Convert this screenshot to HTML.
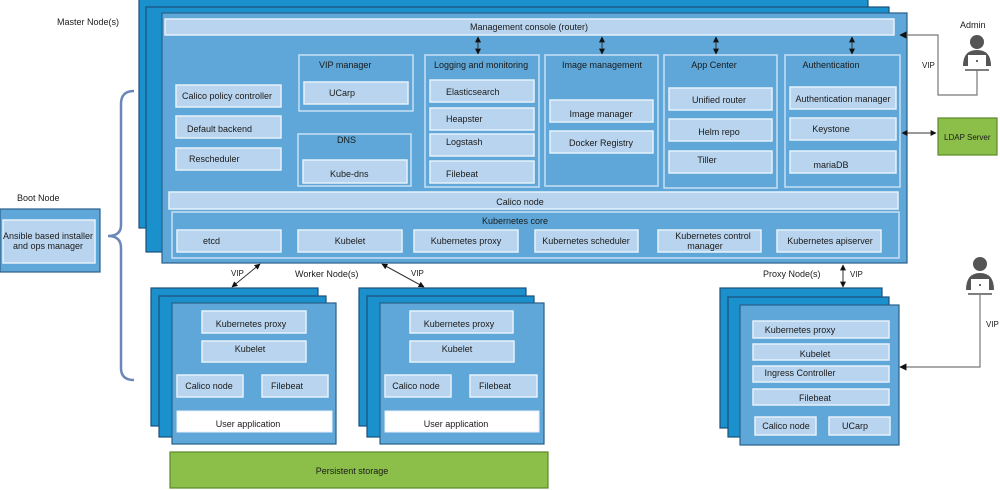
<!DOCTYPE html>
<html><head><meta charset="utf-8"><style>
body{margin:0;background:#fff;}
svg{display:block;font-family:"Liberation Sans",sans-serif;}
.bk{fill:#1a90cc;stroke:#1d4f7a;stroke-width:1.2}
.fr{fill:#5ea7d8;stroke:#2a5f8a;stroke-width:1.2}
.gp{fill:#5ea7d8;stroke:#c9e1f5;stroke-width:1.5}
.lb{fill:#b9d4ee;stroke:#e6f1fb;stroke-width:1.5}
.wh{fill:#fff;stroke:#e6f1fb;stroke-width:1}
.gr{fill:#8bbf4a;stroke:#5c8a2a;stroke-width:1.2}
text{font-size:9px;fill:#1a1a1a;}
.c{text-anchor:middle}
.ln{stroke:#333;stroke-width:1;fill:none}
.gl{stroke:#777;stroke-width:1.2;fill:none}
</style></head><body>
<svg width="1000" height="490" viewBox="0 0 1000 490">
<defs>
<marker id="a" viewBox="0 0 10 10" refX="9" refY="5" markerWidth="6" markerHeight="6" orient="auto-start-reverse"><path d="M0,0L10,5L0,10z" fill="#111"/></marker>
</defs>
<!-- Master -->
<rect class="bk" x="139" y="-2" width="729" height="230"/>
<rect class="bk" x="146" y="7" width="743" height="245"/>
<rect class="fr" x="162" y="13" width="745" height="250"/>
<rect class="lb" x="165" y="19" width="729" height="16"/>
<text class="c" x="529" y="30">Management console (router)</text>
<g class="ln" marker-start="url(#a)" marker-end="url(#a)">
<line x1="478" y1="37" x2="478" y2="54"/><line x1="602" y1="37" x2="602" y2="54"/><line x1="716" y1="37" x2="716" y2="54"/><line x1="852" y1="37" x2="852" y2="54"/>
</g>
<rect class="lb" x="176" y="85" width="105" height="22"/><text x="182" y="99">Calico policy controller</text>
<rect class="lb" x="176" y="116" width="105" height="22"/><text x="187" y="132">Default backend</text>
<rect class="lb" x="176" y="148" width="105" height="22"/><text x="189" y="162">Rescheduler</text>
<rect class="gp" x="299" y="55" width="114" height="56"/><text x="319" y="68">VIP manager</text>
<rect class="lb" x="304" y="82" width="104" height="22"/><text x="329" y="96">UCarp</text>
<rect class="gp" x="298" y="134" width="113" height="52"/><text x="337" y="143">DNS</text>
<rect class="lb" x="303" y="160" width="104" height="23"/><text x="330" y="177">Kube-dns</text>
<rect class="gp" x="425" y="55" width="114" height="132"/><text x="434" y="68">Logging and monitoring</text>
<rect class="lb" x="430" y="80" width="104" height="22"/><text x="446" y="95">Elasticsearch</text>
<rect class="lb" x="430" y="108" width="104" height="22"/><text x="446" y="122">Heapster</text>
<rect class="lb" x="430" y="134" width="104" height="22"/><text x="446" y="145">Logstash</text>
<rect class="lb" x="430" y="161" width="104" height="22"/><text x="446" y="177">Filebeat</text>
<rect class="gp" x="545" y="55" width="113" height="131"/><text class="c" x="602" y="68">Image management</text>
<rect class="lb" x="550" y="100" width="103" height="22"/><text class="c" x="601" y="117">Image manager</text>
<rect class="lb" x="550" y="131" width="103" height="22"/><text class="c" x="601" y="146">Docker Registry</text>
<rect class="gp" x="664" y="55" width="113" height="133"/><text class="c" x="714" y="68">App Center</text>
<rect class="lb" x="669" y="88" width="103" height="22"/><text class="c" x="719" y="103">Unified router</text>
<rect class="lb" x="669" y="119" width="103" height="22"/><text class="c" x="719" y="135">Helm repo</text>
<rect class="lb" x="669" y="151" width="103" height="22"/><text class="c" x="707" y="163">Tiller</text>
<rect class="gp" x="785" y="55" width="115" height="132"/><text class="c" x="831" y="68">Authentication</text>
<rect class="lb" x="790" y="87" width="106" height="22"/><text class="c" x="843" y="102">Authentication manager</text>
<rect class="lb" x="790" y="118" width="106" height="22"/><text class="c" x="831" y="132">Keystone</text>
<rect class="lb" x="790" y="151" width="106" height="22"/><text class="c" x="831" y="168">mariaDB</text>
<rect class="lb" x="169" y="192" width="729" height="17"/><text class="c" x="520" y="205">Calico node</text>
<rect class="gp" x="172" y="212" width="727" height="46"/><text class="c" x="515" y="224">Kubernetes core</text>
<rect class="lb" x="177" y="230" width="104" height="22"/><text x="203" y="244">etcd</text>
<rect class="lb" x="298" y="230" width="104" height="22"/><text class="c" x="350" y="244">Kubelet</text>
<rect class="lb" x="414" y="230" width="104" height="22"/><text class="c" x="466" y="244">Kubernetes proxy</text>
<rect class="lb" x="535" y="230" width="103" height="22"/><text class="c" x="586" y="244">Kubernetes scheduler</text>
<rect class="lb" x="658" y="230" width="103" height="22"/><text class="c" x="713" y="239">Kubernetes control</text><text class="c" x="705" y="249">manager</text>
<rect class="lb" x="777" y="230" width="104" height="22"/><text class="c" x="830" y="244">Kubernetes apiserver</text>
<text x="57" y="25">Master Node(s)</text>
<!-- Admin -->
<text x="960" y="28">Admin</text>
<circle cx="977" cy="42" r="7" fill="#555"/>
<path d="M963,66 Q963,50 977,50 Q991,50 991,66 Z" fill="#555"/>
<rect x="968" y="55" width="18" height="12" fill="#fff"/><circle cx="977" cy="61" r="1" fill="#333"/>
<line x1="965" y1="70" x2="989" y2="70" stroke="#555" stroke-width="1.5"/>
<polyline class="gl" points="977,70 977,95 938,95 938,35 900,35" marker-end="url(#a)"/>
<text x="922" y="68" style="font-size:8px">VIP</text>
<rect class="gr" x="938" y="118" width="59" height="37"/><text x="944" y="140" style="font-size:8px">LDAP Server</text>
<line class="ln" x1="902" y1="133" x2="936" y2="133" marker-start="url(#a)" marker-end="url(#a)"/>
<!-- Boot -->
<text x="17" y="201">Boot Node</text>
<rect class="fr" x="0" y="209" width="100" height="63"/>
<rect class="lb" x="3" y="220" width="92" height="43" stroke="none"/>
<text class="c" x="48" y="239">Ansible based installer</text><text class="c" x="48" y="249">and ops manager</text>
<path d="M134,91 Q121,91 121,104 L121,225 Q121,236 108,236 Q121,236 121,248 L121,368 Q121,380 134,380" fill="none" stroke="#6b87b8" stroke-width="2.5"/>
<!-- Workers -->
<text x="295" y="277">Worker Node(s)</text>
<line class="ln" x1="260" y1="264" x2="232" y2="287" marker-start="url(#a)" marker-end="url(#a)"/>
<text x="231" y="276" style="font-size:8px">VIP</text>
<line class="ln" x1="382" y1="264" x2="424" y2="287" marker-start="url(#a)" marker-end="url(#a)"/>
<text x="411" y="276" style="font-size:8px">VIP</text>
<g>
<rect class="bk" x="151" y="288" width="167" height="138"/>
<rect class="bk" x="159" y="296" width="167" height="141"/>
<rect class="fr" x="172" y="303" width="164" height="141"/>
<rect class="lb" x="202" y="311" width="104" height="22"/><text class="c" x="251" y="327">Kubernetes proxy</text>
<rect class="lb" x="202" y="341" width="104" height="21"/><text class="c" x="250" y="352">Kubelet</text>
<rect class="lb" x="177" y="375" width="66" height="22"/><text class="c" x="209" y="389">Calico node</text>
<rect class="lb" x="262" y="375" width="66" height="22"/><text class="c" x="287" y="389">Filebeat</text>
<rect class="wh" x="177" y="411" width="155" height="21"/><text class="c" x="248" y="427">User application</text>
</g>
<g>
<rect class="bk" x="359" y="288" width="167" height="138"/>
<rect class="bk" x="367" y="296" width="167" height="141"/>
<rect class="fr" x="380" y="303" width="164" height="141"/>
<rect class="lb" x="410" y="311" width="103" height="22"/><text class="c" x="459" y="327">Kubernetes proxy</text>
<rect class="lb" x="410" y="341" width="104" height="21"/><text class="c" x="457" y="352">Kubelet</text>
<rect class="lb" x="385" y="375" width="66" height="22"/><text class="c" x="416" y="389">Calico node</text>
<rect class="lb" x="470" y="375" width="67" height="22"/><text class="c" x="495" y="389">Filebeat</text>
<rect class="wh" x="385" y="411" width="154" height="21"/><text class="c" x="456" y="427">User application</text>
</g>
<rect class="gr" x="170" y="452" width="378" height="36"/><text class="c" x="352" y="474">Persistent storage</text>
<!-- Proxy -->
<text x="763" y="277">Proxy Node(s)</text>
<line class="ln" x1="843" y1="265" x2="843" y2="287" marker-start="url(#a)" marker-end="url(#a)"/>
<text x="850" y="277" style="font-size:8px">VIP</text>
<rect class="bk" x="720" y="288" width="162" height="140"/>
<rect class="bk" x="728" y="297" width="161" height="140"/>
<rect class="fr" x="740" y="305" width="159" height="140"/>
<rect class="lb" x="753" y="321" width="136" height="17"/><text class="c" x="800" y="333">Kubernetes proxy</text>
<rect class="lb" x="753" y="344" width="136" height="16"/><text class="c" x="815" y="357">Kubelet</text>
<rect class="lb" x="753" y="366" width="136" height="16"/><text class="c" x="800" y="376">Ingress Controller</text>
<rect class="lb" x="753" y="389" width="136" height="16"/><text class="c" x="815" y="401">Filebeat</text>
<rect class="lb" x="755" y="417" width="61" height="18"/><text class="c" x="786" y="429">Calico node</text>
<rect class="lb" x="829" y="417" width="61" height="18"/><text class="c" x="855" y="429">UCarp</text>
<circle cx="980" cy="264" r="7" fill="#555"/>
<path d="M966,290 Q966,273 980,273 Q994,273 994,290 Z" fill="#555"/>
<rect x="971" y="279" width="18" height="12" fill="#fff"/><circle cx="980" cy="285" r="1" fill="#333"/>
<line x1="968" y1="294" x2="992" y2="294" stroke="#555" stroke-width="1.5"/>
<polyline class="gl" points="980,295 980,367 900,367" marker-end="url(#a)"/>
<text x="986" y="327" style="font-size:8px">VIP</text>
</svg>
</body></html>
